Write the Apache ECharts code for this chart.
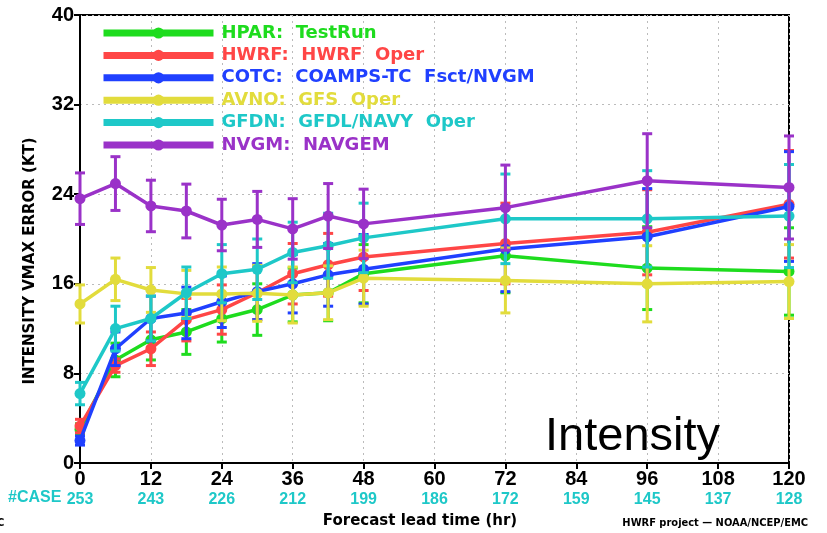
<!DOCTYPE html>
<html>
<head>
<meta charset="utf-8">
<script src="https://cdn.jsdelivr.net/npm/echarts@6/dist/echarts.min.js"></script>
<style>
  html, body { margin: 0; padding: 0; background: #fff; }
  #intensity { width: 827px; height: 533px; }
</style>
</head>
<body>
<div id="intensity"></div>
<script>
// forecast lead times (hr) and number of cases
const leadTimes = [0, 6, 12, 18, 24, 30, 36, 42, 48, 72, 96, 120];
const tickHours = [0, 12, 24, 36, 48, 60, 72, 84, 96, 108, 120];
const caseCounts = [253, 243, 226, 212, 199, 186, 172, 159, 145, 137, 128];

// mean vmax error (kt) and error bar half widths
const hpar = [3.0, 9.2, 11.0, 11.7, 12.9, 13.7, 15.0, 15.2, 16.9, 18.5, 17.4, 17.1];
const hparErr = [0.5, 1.5, 1.8, 2.0, 2.1, 2.3, 2.4, 2.5, 2.6, 3.3, 3.7, 3.9];
const hwrf = [3.3, 8.7, 10.2, 12.8, 13.7, 15.2, 16.9, 17.7, 18.4, 19.6, 20.6, 23.1];
const hwrfErr = [0.6, 0.6, 1.5, 1.9, 2.2, 2.4, 2.7, 2.8, 3.0, 3.6, 3.8, 4.8];
const cotc = [2.0, 10.2, 12.9, 13.4, 14.4, 15.3, 16.0, 16.8, 17.3, 19.1, 20.2, 22.9];
const cotcErr = [0.4, 1.5, 2.0, 2.3, 2.3, 2.5, 2.6, 2.8, 3.1, 3.8, 4.3, 4.9];
const avno = [14.2, 16.4, 15.45, 15.1, 15.1, 15.15, 15.0, 15.2, 16.5, 16.3, 16.0, 16.2];
const avnoErr = [1.7, 1.9, 2.0, 2.1, 2.4, 2.5, 2.5, 2.4, 2.5, 2.9, 3.4, 3.3];
const gfdn = [6.2, 12.0, 12.9, 15.2, 16.9, 17.3, 18.8, 19.4, 20.1, 21.8, 21.8, 22.05];
const gfdnErr = [1.0, 2.0, 2.0, 2.3, 2.6, 2.7, 2.7, 2.9, 3.1, 4.0, 4.3, 4.6];
const nvgm = [23.6, 24.95, 22.95, 22.5, 21.25, 21.75, 20.9, 22.05, 21.35, 22.8, 25.2, 24.6];
const nvgmErr = [2.3, 2.4, 2.3, 2.4, 2.3, 2.5, 2.7, 2.9, 3.1, 3.8, 4.2, 4.6];

const models = [
  { name: "HPAR:  TestRun", color: "#1edc1e", mean: hpar, err: hparErr },
  { name: "HWRF:  HWRF  Oper", color: "#ff4646", mean: hwrf, err: hwrfErr },
  { name: "COTC:  COAMPS-TC  Fsct/NVGM", color: "#2040ff", mean: cotc, err: cotcErr },
  { name: "AVNO:  GFS  Oper", color: "#e2dc3c", mean: avno, err: avnoErr },
  { name: "GFDN:  GFDL/NAVY  Oper", color: "#1ec8c8", mean: gfdn, err: gfdnErr },
  { name: "NVGM:  NAVGEM", color: "#9a32c8", mean: nvgm, err: nvgmErr }
];

const chart = echarts.init(document.getElementById("intensity"));

function errorBars(color) {
  return function (params, api) {
    const x = api.value(0);
    const top = api.coord([x, api.value(2)]);
    const bot = api.coord([x, api.value(1)]);
    const w = 5;
    const style = { stroke: color, lineWidth: 3 };
    return {
      type: "group",
      children: [
        { type: "line", shape: { x1: top[0], y1: top[1], x2: bot[0], y2: bot[1] }, style: style },
        { type: "line", shape: { x1: top[0] - w, y1: top[1], x2: top[0] + w, y2: top[1] }, style: style },
        { type: "line", shape: { x1: bot[0] - w, y1: bot[1], x2: bot[0] + w, y2: bot[1] }, style: style }
      ]
    };
  };
}

const series = [];
models.forEach(function (m, i) {
  series.push({
    type: "custom",
    renderItem: errorBars(m.color),
    encode: { x: 0, y: [1, 2] },
    data: leadTimes.map(function (t, j) { return [t, m.mean[j] - m.err[j], m.mean[j] + m.err[j]]; }),
    z: 2 + i * 2,
    silent: true
  });
  series.push({
    type: "line",
    name: m.name,
    data: leadTimes.map(function (t, j) { return [t, m.mean[j]]; }),
    symbol: "circle",
    symbolSize: 11,
    itemStyle: { color: m.color },
    lineStyle: { color: m.color, width: 3.5 },
    z: 3 + i * 2
  });
});

const gridLine = { show: true, lineStyle: { color: "#bbb", width: 1, type: [2, 4] } };
const labelFont = "Liberation Sans";

chart.setOption({
  animation: false,
  backgroundColor: "#fff",
  grid: { left: 80, right: 38, top: 15, bottom: 70, show: true, borderColor: "#000", borderWidth: 2 },
  legend: {
    orient: "vertical",
    left: 95,
    top: 19,
    itemWidth: 110,
    itemHeight: 14,
    itemGap: 4.4,
    lineStyle: { width: 7 },
    textStyle: { fontFamily: "DejaVu Sans", fontWeight: "bold", fontSize: 18, lineHeight: 14, padding: [0, 0, 0, 3] },
    data: models.map(function (m) { return { name: m.name, textStyle: { color: m.color } }; })
  },
  xAxis: {
    type: "value",
    min: 0,
    max: 120,
    interval: 12,
    axisLine: { lineStyle: { color: "#000", width: 2 } },
    axisTick: { length: 6, lineStyle: { color: "#000", width: 2 } },
    splitLine: gridLine,
    axisLabel: {
      margin: 5,
      formatter: function (v) {
        const k = tickHours.indexOf(v);
        return "{n|" + v + "}\n{c|" + caseCounts[k] + "}";
      },
      rich: {
        n: { fontFamily: labelFont, fontWeight: "bold", fontSize: 20, color: "#000", lineHeight: 22 },
        c: { fontFamily: labelFont, fontWeight: "bold", fontSize: 16, color: "#1ec8c8", lineHeight: 20 }
      }
    }
  },
  yAxis: {
    type: "value",
    min: 0,
    max: 40,
    interval: 8,
    axisLine: { lineStyle: { color: "#000", width: 2 } },
    axisTick: { show: true, length: 6, lineStyle: { color: "#000", width: 2 } },
    splitLine: gridLine,
    axisLabel: { margin: 6, fontFamily: labelFont, fontWeight: "bold", fontSize: 20, color: "#000" }
  },
  graphic: [
    {
      type: "text", x: 30, y: 261, rotation: Math.PI / 2,
      style: { text: "INTENSITY VMAX ERROR (KT)", x: 0, y: 0, align: "center", verticalAlign: "middle",
        font: "bold 15px 'DejaVu Sans'", fill: "#000" }
    },
    {
      type: "text", x: 8, y: 498,
      style: { text: "#CASE", verticalAlign: "middle", font: "bold 16px 'Liberation Sans'", fill: "#1ec8c8" }
    },
    {
      type: "text", x: 420, y: 521,
      style: { text: "Forecast lead time (hr)", align: "center", verticalAlign: "middle",
        font: "bold 15px 'DejaVu Sans'", fill: "#000" }
    },
    {
      type: "text", x: 808, y: 523,
      style: { text: "HWRF project \u2014 NOAA/NCEP/EMC", align: "right", verticalAlign: "middle",
        font: "bold 11px 'DejaVu Sans Condensed'", fill: "#000" }
    },
    {
      type: "text", x: -3, y: 523,
      style: { text: "C", verticalAlign: "middle", font: "bold 11px 'DejaVu Sans Condensed'", fill: "#000" }
    },
    {
      type: "text", x: 545, y: 437,
      style: { text: "Intensity", verticalAlign: "middle", font: "47px 'Liberation Sans'", fill: "#000" }
    }
  ],
  series: series
});

window.addEventListener("resize", function () { chart.resize(); });
</script>
</body>
</html>
